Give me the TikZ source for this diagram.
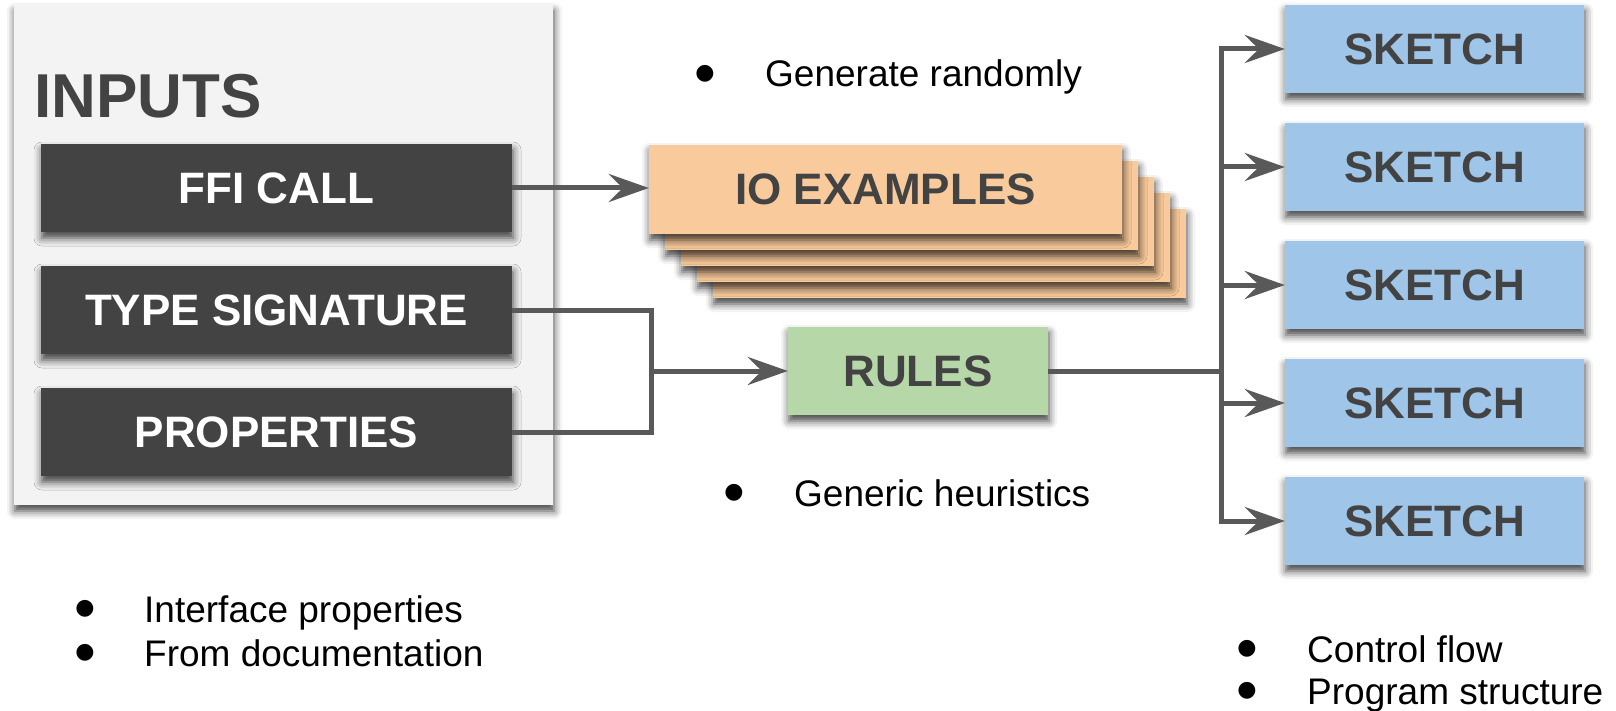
\documentclass[tikz,border=0pt]{standalone}
\usepackage{fontspec}
\setmainfont{Liberation Sans}
\newfontfamily\bulletfont{DejaVu Sans}
\usetikzlibrary{arrows.meta,shadows.blur,calc}

\definecolor{inkgrey}{HTML}{434343}
\definecolor{panelgrey}{HTML}{F3F3F3}
\definecolor{darkbox}{HTML}{434343}
\definecolor{peach}{HTML}{F9CB9C}
\definecolor{sage}{HTML}{B6D7A8}
\definecolor{skyblue}{HTML}{9FC5E8}
\definecolor{linegrey}{HTML}{595959}

\tikzset{
  card/.style={rectangle, inner sep=0pt,
    blur shadow={shadow xshift=1pt, shadow yshift=-6pt,
                 shadow blur radius=8pt, shadow opacity=75}},
  labelfont/.style={font=\bfseries\fontsize{44}{44}\selectfont},
  darkcard/.style={card, labelfont, fill=darkbox, text=white,
    minimum width=471pt, minimum height=88pt},
  iocard/.style={card, labelfont, fill=peach, text=inkgrey,
    minimum width=473pt, minimum height=89pt},
  rulecard/.style={card, labelfont, fill=sage, text=inkgrey,
    minimum width=260pt, minimum height=88pt},
  sketchcard/.style={card, labelfont, fill=skyblue, text=inkgrey,
    minimum width=299pt, minimum height=88pt},
  conn/.style={draw=linegrey, line width=5pt},
  arr/.style={conn, -{Stealth[length=40pt,width=28pt,inset=14pt]}},
  note/.style={anchor=base west, inner sep=0pt, text=black,
    font=\fontsize{37}{37}\selectfont},
  dot/.style={inner sep=0pt, text=black, font=\bulletfont\fontsize{22}{22}\selectfont},
}

\begin{document}
\begin{tikzpicture}[x=1pt, y=-1pt]
  \useasboundingbox (0,0) rectangle (1616,711);

  % inputs panel
  \node[card, fill=panelgrey, minimum width=539pt, minimum height=500pt] (panel) at (283.5,255) {};
  \node[anchor=base west, inner sep=0pt, text=inkgrey,
        font=\bfseries\fontsize{62}{62}\selectfont] (inputs) at (34,118) {INPUTS};

  \node[darkcard] (ffi)  at (276.5,188) {FFI CALL};
  \node[darkcard] (sig)  at (276.5,310) {TYPE SIGNATURE};
  \node[darkcard] (prop) at (276.5,432) {PROPERTIES};

  % stack of example cards, back to front
  \foreach \k in {4,3,2,1} {
    \node[iocard] (io\k) at ({885.5+16*\k},{189.5+16*\k}) {};
  }
  \node[iocard] (io) at (885.5,189.5) {IO EXAMPLES};

  \node[rulecard] (rules) at (918,371) {RULES};

  % sketches
  \foreach \i/\y in {1/49,2/167,3/285,4/403,5/521} {
    \node[sketchcard] (sk\i) at (1434.5,\y) {SKETCH};
  }

  % connectors
  \coordinate (jl) at (651,371);
  \coordinate (jr) at (1221,371);
  \draw[arr] (ffi.east) -- (ffi.east -| io.west);
  \draw[conn] (sig.east) -| (jl) |- (prop.east);
  \draw[arr] (jl) -- (rules.west);
  \draw[conn] (rules.east) -- (jr);
  \foreach \i in {1,...,5} {
    \draw[arr] (jr) |- (sk\i.west);
  }

  % notes
  \node[dot] (d1) at (705,74) {●};
  \node[note] (t1) at (765,87) {Generate randomly};
  \node[dot] (d2) at (734,493) {●};
  \node[note] (t2) at (794,506) {Generic heuristics};
  \node[dot] (d3) at (85,609) {●};
  \node[note] (t3) at (144,622) {Interface properties};
  \node[dot] (d4) at (85,653) {●};
  \node[note] (t4) at (144,666) {From documentation};
  \node[dot] (d5) at (1247,649) {●};
  \node[note] (t5) at (1307,662) {Control flow};
  \node[dot] (d6) at (1247,691) {●};
  \node[note] (t6) at (1307,704) {Program structure};
\end{tikzpicture}
\end{document}
